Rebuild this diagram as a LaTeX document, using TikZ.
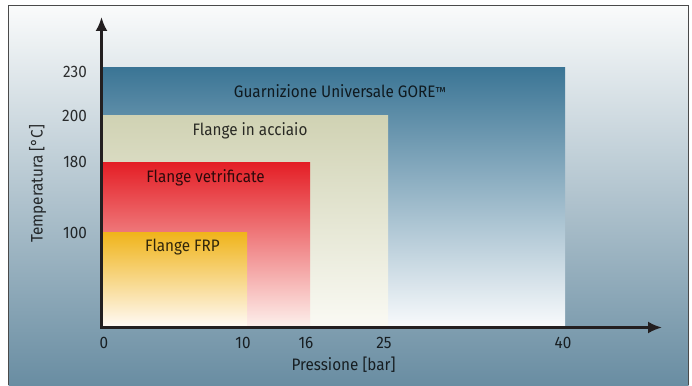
\documentclass[tikz,border=0pt]{standalone}
\usepackage{fontspec}
\setmainfont{Fira Sans}[FakeStretch=0.92]
\usetikzlibrary{arrows.meta}
\definecolor{bgtop}{HTML}{FAFBFB}
\definecolor{bgmid}{HTML}{C5D0D9}
\definecolor{bgbot}{HTML}{698DA2}
\definecolor{framegray}{HTML}{4A4A4A}
\definecolor{axisgray}{HTML}{231F20}
\definecolor{goretop}{HTML}{3B7595}
\definecolor{goremid}{HTML}{98B5CC}
\definecolor{gorebot}{HTML}{F8FAFC}
\definecolor{steeltop}{HTML}{D0D2B3}
\definecolor{steelbot}{HTML}{FAFAF4}
\definecolor{glasstop}{HTML}{E41E25}
\definecolor{glassmid}{HTML}{F2957A}
\definecolor{glassbot}{HTML}{FDF0EC}
\definecolor{frptop}{HTML}{F0B41A}
\definecolor{frpbot}{HTML}{FFFAF6}
\tikzset{
  lbl/.style={font=\fontsize{16.6}{20}\selectfont, text=black, text opacity=0.8, inner sep=0pt},
  axis/.style={line width=2.5pt, draw=axisgray, line join=miter, >={Latex[length=14pt,width=12pt]}}
}
\newcommand{\tmsign}{\raisebox{1.5pt}{\fontsize{13}{13}\selectfont\texttrademark}}
\begin{document}
\begin{tikzpicture}[x=1pt,y=-1pt]
\useasboundingbox (0,0) rectangle (692,385);
% background panel
\shade[top color=bgtop, middle color=bgmid, bottom color=bgbot] (8.5,5.5) rectangle (688.5,385);
\draw[framegray, line width=1pt] (8.5,385)--(8.5,5.5)--(688.5,5.5)--(688.5,385);
% areas
\shade[top color=goretop, middle color=goremid, bottom color=gorebot] (101,68) rectangle (565,327);
\shade[top color=steeltop, bottom color=steelbot] (101,115) rectangle (388,327);
\shade[top color=glasstop, middle color=glassmid, bottom color=glassbot] (101,162) rectangle (310,327);
\shade[top color=frptop, bottom color=frpbot] (101,232) rectangle (247,327);
% axes
\coordinate (O) at (101.5,327.5);
\coordinate (ytip) at (101.5,17);
\coordinate (xtip) at (662,327.5);
\draw[axis, <->] (ytip)--(O)--(xtip);
% area labels
\node[lbl, anchor=base] (gore) at (340,97.7) {Guarnizione Universale GORE\tmsign};
\node[lbl, anchor=base] (steel) at (250,135) {Flange in acciaio};
\node[lbl, anchor=base] (glass) at (205.5,182.7) {Flange vetrificate};
\node[lbl, anchor=base] (frp) at (182.5,251.7) {Flange FRP};
% temperature ticks
\node[lbl, anchor=base east] (t230) at (87,77.3) {230};
\node[lbl, anchor=base east] (t200) at (87,121.5) {200};
\node[lbl, anchor=base east] (t180) at (87,167.7) {180};
\node[lbl, anchor=base east] (t100) at (87,238.3) {100};
% pressure ticks
\node[lbl, anchor=base] (p0) at (104,348.5) {0};
\node[lbl, anchor=base] (p10) at (243,348.5) {10};
\node[lbl, anchor=base] (p16) at (306,348.5) {16};
\node[lbl, anchor=base] (p25) at (384,348.5) {25};
\node[lbl, anchor=base] (p40) at (563,348.5) {40};
% axis titles
\node[lbl, anchor=base] (xlab) at (343.5,370.7) {Pressione [bar]};
\node[lbl, anchor=base west, rotate=90] (ylab) at (42.5,243) {Temperatura [°C]};
\end{tikzpicture}
\end{document}
